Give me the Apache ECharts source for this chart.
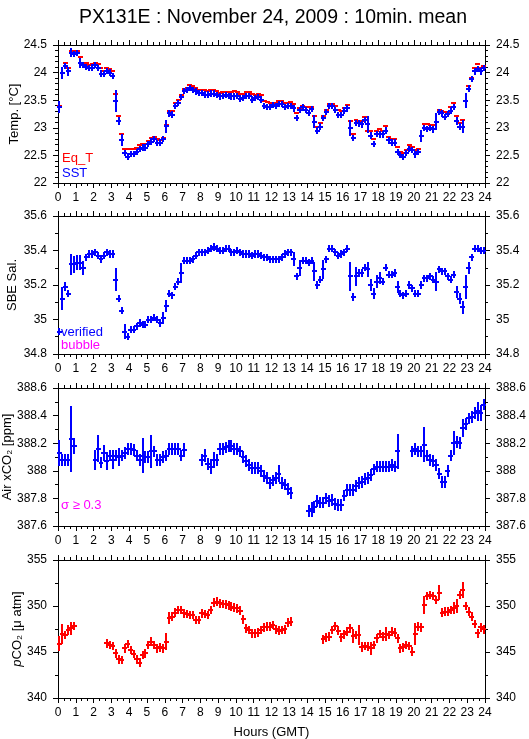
<!DOCTYPE html>
<html>
<head>
<meta charset="utf-8">
<script src="https://cdn.jsdelivr.net/npm/echarts@6/dist/echarts.min.js"></script>
<style>
  html, body { margin: 0; padding: 0; background: #fff; }
  #chart { width: 529px; height: 739px; }
</style>
</head>
<body>
<div id="chart"></div>
<script>
// 10-minute means, one value per slot (index i -> hour (i + 0.5) / 6), null = no data
const sst = [
  23.38, 24.00, 24.12, 24.02, 24.36, 24.34, 24.35, 24.18, 24.14, 24.10,
  24.08, 24.09, 24.14, 24.08, 23.98, 23.97, 24.03, 24.00, 23.94, 23.49,
  23.12, 22.78, 22.54, 22.48, 22.53, 22.53, 22.56, 22.62, 22.64, 22.64,
  22.71, 22.75, 22.80, 22.72, 22.73, 22.80, 23.03, 23.26, 23.24, 23.39,
  23.45, 23.56, 23.67, 23.68, 23.72, 23.68, 23.66, 23.63, 23.63, 23.60,
  23.60, 23.62, 23.62, 23.59, 23.57, 23.58, 23.59, 23.58, 23.57, 23.57,
  23.58, 23.53, 23.54, 23.58, 23.58, 23.51, 23.54, 23.56, 23.51, 23.39,
  23.38, 23.38, 23.41, 23.39, 23.43, 23.43, 23.38, 23.39, 23.39, 23.35,
  23.18, 23.32, 23.37, 23.32, 23.27, 23.34, 23.11, 22.95, 23.02, 23.18,
  23.29, 23.39, 23.39, 23.32, 23.23, 23.23, 23.31, 23.35, 23.00, 22.82,
  23.09, 23.08, 23.06, 23.14, 23.06, 22.86, 22.71, 22.89, 22.88, 22.88,
  22.95, 22.77, 22.73, 22.73, 22.56, 22.51, 22.47, 22.54, 22.62, 22.60,
  22.52, 22.56, 22.85, 23.00, 22.98, 23.00, 22.97, 23.11, 23.29, 23.26,
  23.20, 23.25, 23.31, 23.38, 23.12, 23.02, 23.02, 23.49, 23.71, 23.88,
  24.02, 24.06, 24.02, 24.08
];
const sstErr = [[0, 0.09], [1, 0.09], [3, 0.06], [4, 0.06], [7, 0.075], [19, 0.18], [20, 0.06],
  [21, 0.09], [36, 0.1], [86, 0.1], [98, 0.13], [104, 0.13], [122, 0.09], [127, 0.14],
  [134, 0.06], [136, 0.1], [137, 0.12]];

const eqT = [
  23.39, 24.00, 24.18, 24.08, 24.40, 24.40, 24.40, 24.28, 24.18, 24.17,
  24.14, 24.15, 24.18, 24.15, 24.08, 24.03, 24.09, 24.06, 24.03, 23.61,
  23.21, 22.89, 22.62, 22.61, 22.61, 22.61, 22.63, 22.69, 22.71, 22.71,
  22.76, 22.82, 22.83, 22.80, 22.78, 22.82, 23.05, 23.31, 23.31, 23.45,
  23.50, 23.60, 23.71, 23.72, 23.78, 23.75, 23.73, 23.69, 23.69, 23.68,
  23.67, 23.68, 23.69, 23.66, 23.63, 23.65, 23.65, 23.65, 23.64, 23.66,
  23.65, 23.62, 23.62, 23.65, 23.65, 23.61, 23.60, 23.62, 23.59, 23.48,
  23.46, 23.45, 23.45, 23.45, 23.48, 23.48, 23.45, 23.45, 23.47, 23.44,
  23.27, 23.36, 23.39, 23.38, 23.38, 23.38, 23.21, 23.02, 23.08, 23.21,
  23.32, 23.44, 23.44, 23.39, 23.32, 23.31, 23.35, 23.41, 23.12, 22.89,
  23.14, 23.12, 23.12, 23.20, 22.94, 22.94, 22.80, 22.94, 22.97, 22.95,
  23.03, 22.83, 22.80, 22.80, 22.65, 22.56, 22.54, 22.59, 22.69, 22.65,
  22.59, 22.62, 22.85, 23.06, 23.06, 23.05, 23.05, 23.11, 23.33, 23.31,
  23.29, 23.29, 23.37, 23.45, 23.21, 23.09, 23.14, 23.48, 23.75, 23.91,
  24.08, 24.15, 24.08, 24.12
];
const eqTErr = [];

const salinity = [
  34.93, 35.12, 35.19, 35.15, 35.32, 35.32, 35.33, 35.33, 35.30, 35.36,
  35.38, 35.38, 35.39, 35.37, 35.35, 35.37, 35.39, 35.38, 35.38, 35.23,
  35.12, 35.05, 34.93, 34.90, 34.94, 34.94, 34.96, 34.98, 34.97, 34.97,
  35.00, 35.00, 35.01, 35.00, 34.98, 35.01, 35.08, 35.15, 35.14, 35.19,
  35.22, 35.27, 35.34, 35.34, 35.34, 35.35, 35.37, 35.39, 35.39, 35.39,
  35.40, 35.41, 35.42, 35.41, 35.40, 35.40, 35.41, 35.41, 35.39, 35.39,
  35.40, 35.39, 35.38, 35.38, 35.38, 35.37, 35.38, 35.38, 35.37, 35.36,
  35.36, 35.35, 35.35, 35.35, 35.35, 35.36, 35.38, 35.39, 35.39, 35.35,
  35.25, 35.30, 35.34, 35.34, 35.33, 35.34, 35.28, 35.20, 35.23, 35.29,
  35.35, 35.41, 35.41, 35.39, 35.37, 35.38, 35.39, 35.41, 35.25, 35.13,
  35.25, 35.27, 35.27, 35.30, 35.29, 35.20, 35.15, 35.22, 35.24, 35.22,
  35.30, 35.26, 35.26, 35.27, 35.19, 35.15, 35.14, 35.15, 35.20, 35.18,
  35.15, 35.15, 35.20, 35.24, 35.24, 35.25, 35.23, 35.22, 35.29, 35.28,
  35.28, 35.25, 35.23, 35.26, 35.16, 35.12, 35.07, 35.19, 35.30, 35.36,
  35.41, 35.41, 35.40, 35.40
];
const salinityErr = [[1, 0.06], [2, 0.02], [4, 0.055], [5, 0.045], [6, 0.04], [7, 0.04], [8, 0.035],
  [19, 0.06], [22, 0.04], [35, 0.03], [36, 0.03], [41, 0.05], [79, 0.035], [81, 0.04],
  [86, 0.05], [89, 0.05], [98, 0.08], [100, 0.05], [104, 0.04], [105, 0.03], [106, 0.025],
  [107, 0.03], [108, 0.03], [114, 0.03], [127, 0.05], [134, 0.03], [135, 0.025],
  [136, 0.03], [137, 0.065], [138, 0.03]];

const airXco2 = [
  388.13, 388.08, 388.08, 388.08, 388.23, 388.18, null, null, null, null,
  null, null, 388.08, 388.16, 388.06, 388.13, 388.07, 388.11, 388.08, 388.11,
  388.10, 388.11, 388.13, 388.16, 388.16, 388.15, 388.11, 388.08, 388.11, 388.10,
  388.10, 388.14, 388.14, 388.08, 388.08, 388.10, 388.11, 388.16, 388.16, 388.16,
  388.16, 388.11, 388.15, null, null, null, null, null, 388.08, 388.11,
  388.05, 388.03, 388.08, 388.08, 388.16, 388.16, 388.17, 388.18, 388.18, 388.16,
  388.16, 388.14, 388.10, 388.07, 388.04, 388.02, 388.02, 388.02, 388.00, 387.96,
  387.95, 387.91, 387.93, 387.95, 387.98, 387.91, 387.90, 387.87, 387.84, null,
  null, null, null, null, 387.71, 387.72, 387.74, 387.78, 387.77, 387.77,
  387.80, 387.78, 387.79, 387.76, 387.75, 387.75, 387.82, 387.86, 387.86, 387.86,
  387.89, 387.91, 387.92, 387.94, 387.95, 387.97, 388.01, 388.03, 388.03, 388.03,
  388.03, 388.03, 388.04, 388.03, 388.14, null, null, null, null, 388.14,
  388.16, 388.14, 388.14, 388.19, 388.11, 388.08, 388.07, 388.04, 387.98, 387.92,
  387.92, 388.00, 388.11, 388.20, 388.21, 388.20, 388.31, 388.34, 388.38, 388.39,
  388.42, 388.43, 388.42, 388.48
];
const airXco2Err = [[0, 0.085], [4, 0.23], [5, 0.05], [12, 0.065], [13, 0.09], [15, 0.05],
  [16, 0.06], [18, 0.06], [20, 0.06], [28, 0.12], [31, 0.11], [42, 0.045], [49, 0.04],
  [51, 0.045], [52, 0.05], [74, 0.055], [85, 0.05], [114, 0.12], [123, 0.12], [133, 0.08],
  [136, 0.06], [141, 0.06], [142, 0.05]];

const pco2 = [
  345.90, 346.96, 346.85, 347.40, 347.60, 347.80, null, null, null, null,
  null, null, null, null, null, null, 345.94, 345.76, 345.65, 344.86,
  344.20, 344.13, 345.40, 345.87, 345.20, 344.78, 344.20, 343.84, 344.67, 344.86,
  345.76, 346.12, 345.76, 345.40, 345.50, 345.40, 346.12, 348.66, 348.84, 349.28,
  349.57, 349.57, 349.20, 349.13, 349.02, 349.02, 348.48, 348.48, 349.20, 349.13,
  349.02, 349.57, 350.36, 350.47, 350.29, 350.22, 350.18, 350.07, 349.93, 349.82,
  349.75, 349.50, 348.55, 347.57, 347.39, 347.03, 347.03, 347.10, 347.39, 347.68,
  347.75, 347.75, 347.93, 347.46, 347.32, 347.39, 347.46, 348.19, 348.30, null,
  null, null, null, null, null, null, null, null, null, 346.38,
  346.60, 346.67, 347.39, 347.83, 347.32, 346.60, 346.92, 347.21, 347.57, 346.74,
  346.85, 346.85, 345.58, 345.65, 345.58, 345.40, 345.76, 346.49, 346.96, 346.67,
  346.96, 346.85, 347.21, 347.10, 346.49, 345.40, 345.50, 345.76, 345.65, 345.04,
  346.96, 347.75, 347.68, 350.10, 351.09, 351.20, 351.09, 350.65, 351.45, 349.28,
  349.38, 349.38, 349.57, 349.82, 350.00, 351.20, 351.74, 350.00, 349.38, 348.84,
  348.04, 347.03, 347.68, 347.46
];
const pco2Err = [[0, 0.72], [1, 1.0], [3, 0.45], [4, 0.6], [36, 0.8], [37, 0.55], [99, 0.6],
  [101, 1.0], [102, 0.45], [105, 0.63], [110, 0.7], [119, 0.4], [120, 1.1], [123, 0.9],
  [128, 0.7], [133, 0.55], [134, 0.63], [136, 0.72]];

// y ranges [min, max, major step]
const tempRange = [22, 24.5, 0.5];
const salRange = [34.8, 35.6, 0.2];
const xco2Range = [387.6, 388.6, 0.2];
const pco2Range = [340, 355, 5];
const hourRange = [0, 24, 1];

const FONT = '"Liberation Sans", Arial, Helvetica, sans-serif';
const HALF_SLOT = 5 / 60; // half of a 10 min slot, in hours

const chart = echarts.init(document.getElementById('chart'));

function toPoints (values, errs, defaultErr) {
  const errMap = {};
  errs.forEach(([i, e]) => { errMap[i] = e });
  const out = [];
  values.forEach((v, i) => {
    if (v === null) return;
    out.push([(i + 0.5) / 6, v, i in errMap ? errMap[i] : defaultErr]);
  });
  return out;
}

// horizontal bar = averaging window, vertical bar = std dev
function crossRenderer (color) {
  return function (params, api) {
    const t = api.value(0);
    const v = api.value(1);
    const e = api.value(2);
    const mid = api.coord([t, v]);
    const left = api.coord([t - HALF_SLOT, v]);
    const right = api.coord([t + HALF_SLOT, v]);
    const hi = api.coord([t, v + e]);
    const lo = api.coord([t, v - e]);
    const y = Math.round(mid[1]);
    const x = Math.round(mid[0]);
    const style = { stroke: color, lineWidth: 2, lineCap: 'square' };
    const children = [
      { type: 'line', shape: { x1: Math.round(left[0]), y1: y, x2: Math.round(right[0]), y2: y }, style }
    ];
    if (e > 0) {
      children.push({ type: 'line', shape: { x1: x, y1: Math.round(hi[1]), x2: x, y2: Math.round(lo[1]) }, style });
    }
    return { type: 'group', children };
  };
}

const panels = [
  { name: 'Temp. [°C]', range: tempRange, minor: 5, nameGap: 37 },
  { name: 'SBE Sal.', range: salRange, minor: 2, nameGap: 39 },
  { name: 'Air xCO₂ [ppm]', range: xco2Range, minor: 2, nameGap: 44 },
  { name: '{it|p}CO₂ [μ atm]', range: pco2Range, minor: 2, nameGap: 34 }
];
const gridTops = [45, 216, 388, 560];
const PANEL_H = 138;

const axisLine = { show: true, onZero: false, lineStyle: { color: '#000', width: 1 } };
const tickStyle = { color: '#000', width: 1 };
const labelStyle = { color: '#000', fontSize: 12, fontFamily: FONT };

const grids = [];
const xAxes = [];
const yAxes = [];
panels.forEach((p, i) => {
  grids.push({
    left: 58,
    right: 44,
    top: gridTops[i],
    height: PANEL_H,
    containLabel: false,
    outerBoundsMode: 'none'
  });
  ['bottom', 'top'].forEach(pos => {
    xAxes.push({
      gridIndex: i,
      type: 'value',
      position: pos,
      min: hourRange[0],
      max: hourRange[1],
      interval: hourRange[2],
      axisLine,
      axisTick: { show: true, length: 5, lineStyle: tickStyle },
      minorTick: { show: true, splitNumber: 3, length: 3, lineStyle: tickStyle },
      axisLabel: { show: pos === 'bottom', margin: 9, ...labelStyle },
      splitLine: { show: false },
      name: (i === 3 && pos === 'bottom') ? 'Hours (GMT)' : '',
      nameLocation: 'middle',
      nameGap: 28,
      nameMoveOverlap: false,
      nameTextStyle: { color: '#000', fontSize: 13, fontFamily: FONT }
    });
  });
  ['left', 'right'].forEach(pos => {
    yAxes.push({
      gridIndex: i,
      type: 'value',
      position: pos,
      min: p.range[0],
      max: p.range[1],
      interval: p.range[2],
      axisLine,
      axisTick: { show: true, length: 5, lineStyle: tickStyle },
      minorTick: { show: true, splitNumber: p.minor, length: 3, lineStyle: tickStyle },
      axisLabel: { margin: 11, ...labelStyle },
      splitLine: { show: false },
      name: pos === 'left' ? p.name : '',
      nameLocation: 'middle',
      nameGap: p.nameGap,
      nameMoveOverlap: false,
      nameTextStyle: {
        color: '#000',
        fontSize: 13,
        fontFamily: FONT,
        rich: { it: { fontStyle: 'italic', fontSize: 13, fontFamily: FONT, color: '#000' } }
      }
    });
  });
});

function crossSeries (panel, values, errs, defaultErr, color) {
  return {
    type: 'custom',
    xAxisIndex: panel * 2,
    yAxisIndex: panel * 2,
    data: toPoints(values, errs, defaultErr),
    encode: { x: 0, y: 1 },
    renderItem: crossRenderer(color),
    silent: true
  };
}

function note (text, x, y, color) {
  return {
    type: 'text',
    x,
    y,
    silent: true,
    style: { text, fill: color, font: '13px ' + FONT, verticalAlign: 'middle' }
  };
}

chart.setOption({
  animation: false,
  backgroundColor: '#fff',
  title: {
    text: 'PX131E : November 24, 2009 : 10min. mean',
    left: 268,
    textAlign: 'center',
    top: 3,
    textStyle: { color: '#000', fontSize: 19.5, fontWeight: 'normal', fontFamily: FONT }
  },
  grid: grids,
  xAxis: xAxes,
  yAxis: yAxes,
  series: [
    crossSeries(0, eqT, eqTErr, 0, '#ff0000'),
    crossSeries(0, sst, sstErr, 0.04, '#0000ff'),
    crossSeries(1, salinity, salinityErr, 0.015, '#0000ff'),
    crossSeries(2, airXco2, airXco2Err, 0.035, '#0000ff'),
    crossSeries(3, pco2, pco2Err, 0.35, '#ff0000')
  ],
  graphic: [
    note('Eq_T', 62, 158, '#ff0000'),
    note('SST', 62, 173, '#0000ff'),
    note('verified', 61, 332, '#0000ff'),
    note('bubble', 61, 345, '#ff00ff'),
    note('σ ≥ 0.3', 61, 505, '#ff00ff')
  ]
});
</script>
</body>
</html>
